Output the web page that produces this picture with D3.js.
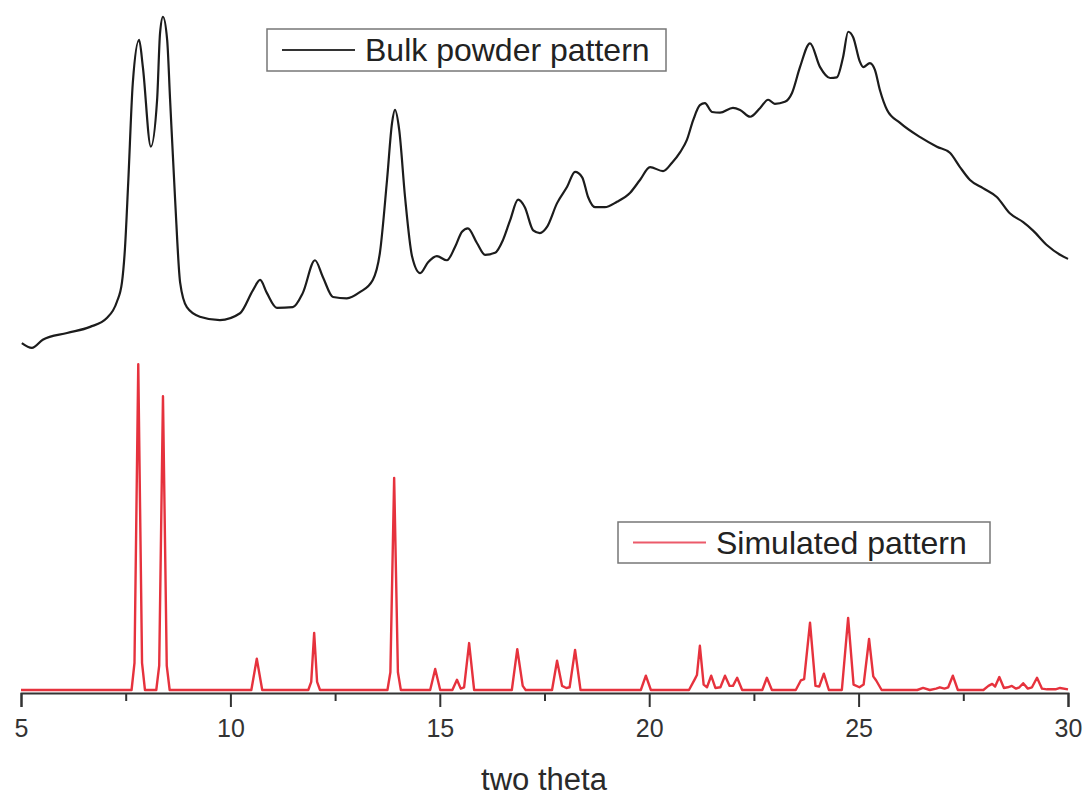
<!DOCTYPE html>
<html>
<head>
<meta charset="utf-8">
<script src="https://cdn.jsdelivr.net/npm/d3@7"></script>
<style>
  body { margin: 0; background: #fff; }
  svg { display: block; font-family: "Liberation Sans", Arial, sans-serif; }
</style>
</head>
<body>
<div id="chart"></div>
<script>
// two theta / intensity pairs (arbitrary units, black trace sits above the red one)
const bulkPattern = [
  [5.02,510],[5.26,503],[5.52,515],[6.10,525],[6.65,534],[7.05,547],[7.29,571],[7.41,599],
  [7.48,647],[7.56,746],[7.67,893],[7.82,956],[7.91,916],[8.10,799],[8.25,868],[8.32,966],
  [8.39,990],[8.49,956],[8.56,868],[8.68,721],[8.80,599],[8.96,563],[9.27,549],[9.75,544],
  [10.23,554],[10.54,588],[10.71,603],[10.87,584],[11.11,562],[11.49,563],[11.73,584],[12.02,632],
  [12.21,607],[12.45,578],[12.78,576],[13.09,585],[13.40,603],[13.57,643],[13.74,750],[13.86,834],
  [13.93,853],[14.03,824],[14.17,725],[14.34,637],[14.53,613],[14.72,629],[14.93,638],[15.17,632],
  [15.36,651],[15.53,674],[15.67,679],[15.89,657],[16.08,640],[16.32,643],[16.51,662],[16.68,691],
  [16.87,721],[17.03,710],[17.23,676],[17.39,672],[17.56,681],[17.80,716],[18.04,740],[18.23,762],
  [18.40,754],[18.54,725],[18.71,710],[18.94,710],[19.23,718],[19.54,731],[19.78,750],[20.02,769],
  [20.33,763],[20.54,775],[20.74,791],[20.90,809],[21.05,838],[21.21,860],[21.33,863],[21.50,850],
  [21.69,849],[22.00,856],[22.17,853],[22.41,843],[22.65,856],[22.84,868],[23.00,862],[23.24,865],
  [23.41,878],[23.60,916],[23.84,951],[24.08,916],[24.32,900],[24.48,901],[24.63,931],[24.75,968],
  [24.87,960],[25.03,924],[25.11,916],[25.27,922],[25.39,912],[25.51,882],[25.68,853],[25.99,834],
  [26.47,813],[26.87,799],[27.18,790],[27.42,769],[27.66,750],[27.97,738],[28.30,725],[28.61,701],
  [28.93,688],[29.16,676],[29.50,654],[29.81,640],[30.00,634]
];

const simulatedPattern = [
  [5.00,0],[7.64,0],[7.71,40],[7.80,479],[7.89,40],[7.96,0],
  [8.23,0],[8.30,36],[8.39,432],[8.48,36],[8.55,0],
  [10.50,0],[10.63,46],[10.76,0],
  [11.86,0],[11.93,12],[12.00,84],[12.07,12],[12.14,0],
  [13.75,0],[13.82,26],[13.91,312],[14.00,26],[14.07,0],
  [14.77,0],[14.89,31],[15.01,0],
  [15.30,0],[15.41,15],[15.50,2],[15.58,4],[15.70,69],[15.82,0],
  [16.72,0],[16.85,60],[16.98,6],[17.05,0],
  [17.68,0],[17.80,43],[17.92,6],[18.02,3],[18.10,4],[18.23,59],[18.36,0],
  [19.80,0],[19.92,21],[20.04,0],
  [20.95,0],[21.09,16],[21.14,22],[21.21,65],[21.30,8],[21.38,4],[21.48,21],[21.58,3],
  [21.70,4],[21.81,21],[21.92,6],[22.00,6],[22.10,18],[22.22,0],
  [22.70,0],[22.81,18],[22.93,0],
  [23.50,0],[23.62,14],[23.70,16],[23.84,99],[23.97,6],[24.06,5],[24.17,24],[24.29,0],
  [24.60,0],[24.75,106],[24.88,8],[25.02,4],[25.12,8],[25.25,75],[25.35,20],[25.42,14],[25.55,0],
  [26.40,0],[26.54,3],[26.70,0],[26.85,2],[26.94,4],[27.05,2],[27.14,4],[27.25,21],[27.37,0],
  [27.98,0],[28.10,6],[28.19,9],[28.26,5],[28.36,19],[28.47,3],[28.56,4],[28.66,6],[28.76,2],
  [28.84,4],[28.93,10],[29.04,2],[29.14,4],[29.26,18],[29.38,2],[29.50,1],[29.70,1],[29.81,3],[30.00,1]
];

const majorTicks = [5, 10, 15, 20, 25, 30];
const minorTicks = [7.5, 12.5, 17.5, 22.5, 27.5];
const legendLabels = ["Bulk powder pattern", "Simulated pattern"];
const xTitle = "two theta";

const width = 1089, height = 796;

const svg = d3.select("#chart").append("svg")
  .attr("width", width)
  .attr("height", height);

const x = d3.scaleLinear().domain([5, 30]).range([21, 1068]);
const y = d3.scaleLinear().domain([0, 1000]).range([690, 10]);

// lines
const line = d3.line()
  .x(d => x(d[0]))
  .y(d => y(d[1]));

svg.append("path")
  .datum(simulatedPattern)
  .attr("d", line.curve(d3.curveLinear))
  .attr("fill", "none")
  .attr("stroke", "#e6323d")
  .attr("stroke-width", 2.4)
  .attr("stroke-linejoin", "round");

svg.append("path")
  .datum(bulkPattern)
  .attr("d", line.curve(d3.curveMonotoneX))
  .attr("fill", "none")
  .attr("stroke", "#1c1c1c")
  .attr("stroke-width", 2.2)
  .attr("stroke-linejoin", "round");

// x axis
const axisY = 693;
const xAxis = svg.append("g")
  .attr("transform", "translate(0," + axisY + ")")
  .call(d3.axisBottom(x).tickValues(majorTicks).tickSize(14).tickPadding(12).tickFormat(d3.format("d")));
xAxis.select(".domain").attr("stroke", "#333").attr("stroke-width", 2);
xAxis.selectAll(".tick line").attr("stroke", "#333").attr("stroke-width", 2);
xAxis.selectAll(".tick text")
  .attr("fill", "#333")
  .style("font-size", "25px")
  .style("font-family", "Liberation Sans, Arial, sans-serif");

svg.append("g")
  .attr("transform", "translate(0," + axisY + ")")
  .call(d3.axisBottom(x).tickValues(minorTicks).tickSize(8).tickFormat(""))
  .call(g => g.select(".domain").remove())
  .selectAll(".tick line").attr("stroke", "#333").attr("stroke-width", 2);

svg.append("text")
  .attr("x", 544)
  .attr("y", 790)
  .attr("text-anchor", "middle")
  .attr("fill", "#2a2a2a")
  .style("font-size", "31px")
  .text(xTitle);

// legends
function legend(bx, by, bw, bh, color, label) {
  const g = svg.append("g").attr("transform", "translate(" + bx + "," + by + ")");
  g.append("rect")
    .attr("width", bw).attr("height", bh)
    .attr("fill", "#fff")
    .attr("stroke", "#777").attr("stroke-width", 1.5);
  g.append("line")
    .attr("x1", 15).attr("x2", 88)
    .attr("y1", bh / 2).attr("y2", bh / 2)
    .attr("stroke", color).attr("stroke-width", 2);
  g.append("text")
    .attr("x", 98).attr("y", bh / 2 + 11)
    .attr("fill", "#222")
    .style("font-size", "32px")
    .text(label);
}
legend(267, 29, 399, 42, "#333", legendLabels[0]);
legend(618, 522, 372, 41, "#ec5a6a", legendLabels[1]);
</script>
</body>
</html>
